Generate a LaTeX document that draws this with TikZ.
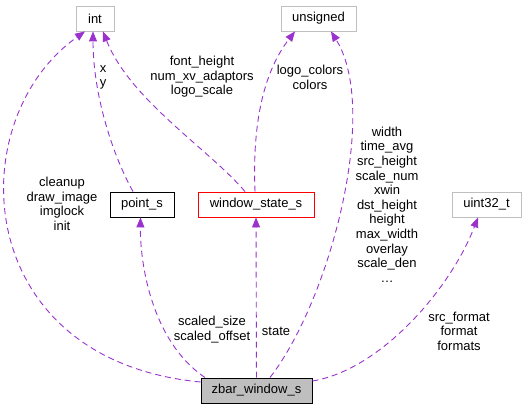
\documentclass[tikz,border=0pt]{standalone}
\usepackage{fontspec}
\setmainfont{Liberation Sans}
\usetikzlibrary{arrows.meta}
\definecolor{memberpurple}{HTML}{9A32CD}
\definecolor{typegray}{HTML}{BFBFBF}
\begin{document}
\begin{tikzpicture}[x=1pt, y=-1pt,
        >={Triangle[length=10pt, width=8pt]},
        typebox/.style={draw=typegray, line width=0.9pt, minimum height=25pt, inner sep=0pt, font=\fontsize{13}{14.6}\selectfont},
        member/.style={->, memberpurple, line width=0.9pt, dash pattern=on 6pt off 4pt},
        names/.style={align=center, inner sep=0pt, font=\fontsize{13}{14.6}\selectfont}]
        \useasboundingbox (0,0) rectangle (525,409);

        % Nodes
        \node[typebox, minimum width=38pt] (int) at (95,18.5) {int};
        \node[typebox, minimum width=75pt] (unsigned) at (318.5,18.5) {unsigned};
        \node[typebox, draw=black, minimum width=64pt] (point) at (142,204.5) {point\_s};
        \node[typebox, draw=red, minimum width=116pt] (state) at (256,204.5) {window\_state\_s};
        \node[typebox, minimum width=69pt] (uint) at (486.5,204.5) {uint32\_t};
        \node[typebox, draw=black, fill=typegray, minimum width=111pt] (zbar) at (256.5,390.5) {zbar\_window\_s};

        % Arrows
        \draw[member] (zbar.west |- 0,382) .. controls (-30,360) and (-40,120) .. (int.south -| 85,0);
        \draw[member] (zbar.north -| 205,0) .. controls (150,340) and (140,260) .. (point.south -| 140.5,0);
        \draw[member] (point.north -| 133,0) .. controls (110,150) and (93,90) .. (int.south -| 93,0);
        \draw[member] (state.north -| 245,0) .. controls (210,150) and (130,100) .. (int.south -| 103,0);
        \draw[member] (state.north -| 255,0) .. controls (252,120) and (265,70) .. (unsigned.south -| 295,0);
        \draw[member] (zbar) -- (state);
        \draw[member] (zbar.north -| 270,0) .. controls (330,300) and (380,110) .. (unsigned.south -| 331,0);
        \draw[member] (zbar.east |- 0,381) .. controls (380,370) and (450,290) .. (uint.south -| 478,0);

        % Annotations
        \node[names] (cleanup) at (62,204) {cleanup\\draw\_image\\imglock\\init};
        \node[names] (scaled) at (212,329.5) {scaled\_size\\scaled\_offset};
        \node[names] (xy) at (103,77.5) {x\\y};
        \node[names] (font) at (202,77) {font\_height\\num\_xv\_adaptors\\logo\_scale};
        \node[names] (colors) at (310,77.5) {logo\_colors\\colors};
        \node[names] (stateref) at (276,331) {state};
        \node[names] (width) at (387,204.5) {width\\time\_avg\\src\_height\\scale\_num\\xwin\\dst\_height\\height\\max\_width\\overlay\\scale\_den\\\dots};
        \node[names] (formats) at (459,331) {src\_format\\format\\formats};
\end{tikzpicture}
\end{document}
